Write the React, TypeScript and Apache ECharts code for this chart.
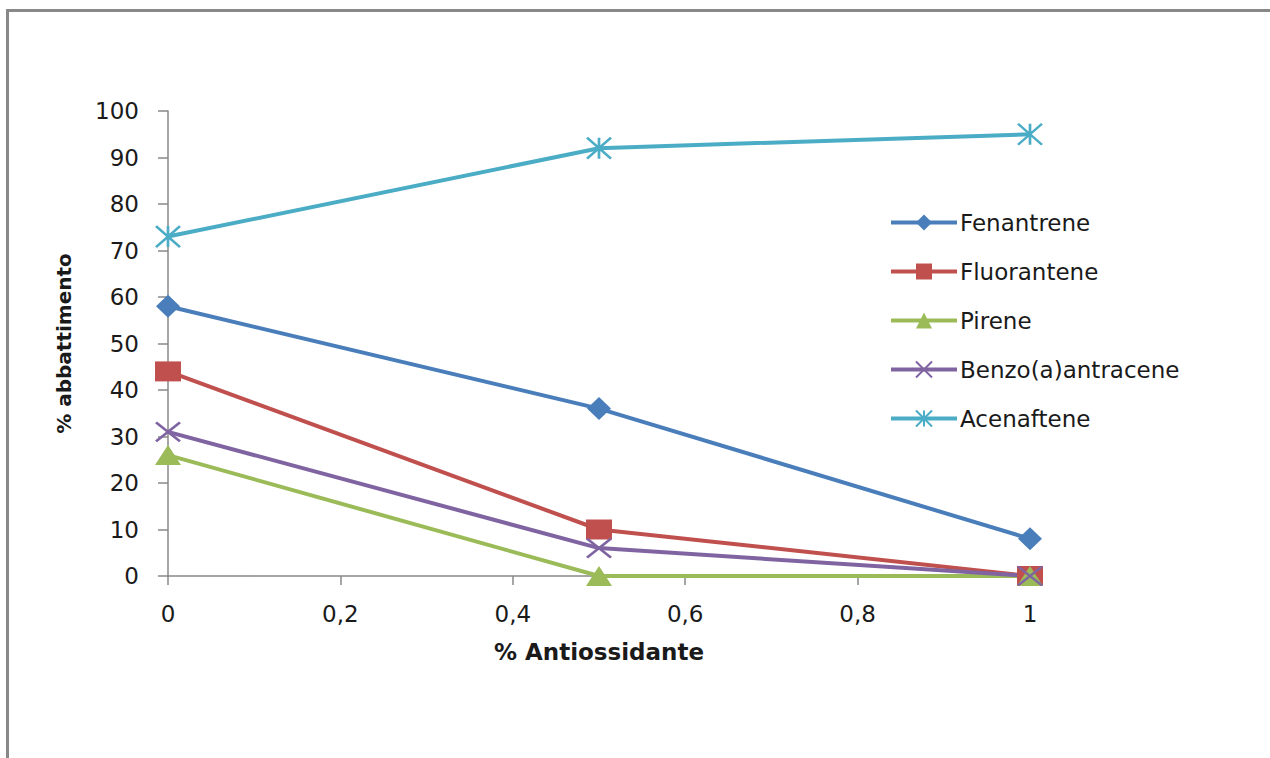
import React, { useEffect, useRef } from "react";
import * as echarts from "echarts";

// Antioxidant share (x) and abatement percentages per compound
const antioxidant = [0, 0.5, 1];
const fenantrene = [58, 36, 8];
const fluorantene = [44, 10, 0];
const pirene = [26, 0, 0];
const benzoAntracene = [31, 6, 0];
const acenaftene = [73, 92, 95];

const xTicks = { min: 0, max: 1, interval: 0.2 };
const yTicks = { min: 0, max: 100, interval: 10 };

const FONT = "'DejaVu Sans', sans-serif";

const crossPath = "path://M0,0 L10,10 M10,0 L0,10";
const starPath = "path://M0,0 L10,10 M10,0 L0,10 M5,0 L5,10";

const pairs = (ys: number[]) => antioxidant.map((x, i) => [x, ys[i]]);

export default function App() {
  const ref = useRef<HTMLDivElement>(null);

  useEffect(() => {
    if (!ref.current) return;
    const chart = echarts.init(ref.current, null, { renderer: "svg" });

    const lineSeries = (
      name: string,
      ys: number[],
      color: string,
      symbol: string,
      symbolSize: number | number[],
      stroked = false
    ) => ({
      name,
      type: "line",
      data: pairs(ys),
      symbol,
      symbolSize,
      showAllSymbol: true,
      clip: false,
      lineStyle: { color, width: 4 },
      itemStyle: stroked
        ? { color, borderColor: color, borderWidth: 2.5 }
        : { color },
      emphasis: { disabled: true },
    });

    chart.setOption({
      animation: false,
      backgroundColor: "#ffffff",
      graphic: [
        {
          type: "rect",
          left: 5,
          top: 8,
          shape: { width: 1300, height: 800 },
          style: { fill: "none", stroke: "#888888", lineWidth: 3 },
          silent: true,
          z: -1,
        },
      ],
      grid: { left: 168, right: 240, top: 111, bottom: 182 },
      legend: {
        orient: "vertical",
        left: 884,
        top: 206,
        itemWidth: 66,
        itemHeight: 20,
        itemGap: 26,
        lineStyle: { width: 4 },
        textStyle: { fontFamily: FONT, fontSize: 23, color: "#1a1a1a", lineHeight: 21, padding: [0, 0, 0, -2] },
        data: ["Fenantrene", "Fluorantene", "Pirene", "Benzo(a)antracene", "Acenaftene"],
      },
      xAxis: {
        type: "value",
        min: xTicks.min,
        max: xTicks.max,
        interval: xTicks.interval,
        name: "% Antiossidante",
        nameLocation: "middle",
        nameGap: 64,
        nameTextStyle: { fontFamily: FONT, fontSize: 23, fontWeight: "bold", color: "#1a1a1a" },
        splitLine: { show: false },
        axisLine: { lineStyle: { color: "#888888", width: 1.5 } },
        axisTick: { show: true, length: 9, lineStyle: { color: "#888888", width: 1.5 } },
        axisLabel: {
          fontFamily: FONT,
          fontSize: 23,
          color: "#1a1a1a",
          margin: 26,
          formatter: (v: number) => String(Math.round(v * 10) / 10).replace(".", ","),
        },
      },
      yAxis: {
        type: "value",
        min: yTicks.min,
        max: yTicks.max,
        interval: yTicks.interval,
        name: "% abbattimento",
        nameLocation: "middle",
        nameGap: 94,
        nameRotate: 90,
        nameTextStyle: { fontFamily: FONT, fontSize: 20, fontWeight: "bold", color: "#1a1a1a" },
        splitLine: { show: false },
        axisLine: { show: true, lineStyle: { color: "#888888", width: 1.5 } },
        axisTick: { show: true, length: 10, lineStyle: { color: "#888888", width: 1.5 } },
        axisLabel: { fontFamily: FONT, fontSize: 23, color: "#1a1a1a", margin: 29 },
      },
      series: [
        lineSeries("Fenantrene", fenantrene, "#4A7EBB", "diamond", [24, 23]),
        lineSeries("Fluorantene", fluorantene, "#C0504D", "rect", [26, 20]),
        lineSeries("Pirene", pirene, "#9BBB59", "triangle", [26, 20]),
        lineSeries("Benzo(a)antracene", benzoAntracene, "#8064A2", crossPath, [24, 19], true),
        lineSeries("Acenaftene", acenaftene, "#4BACC6", starPath, [24, 21], true),
      ],
    });

    return () => chart.dispose();
  }, []);

  return (
    <div
      ref={ref}
      style={{ position: "fixed", left: 0, top: 0, width: 1270, height: 758, background: "#fff" }}
    />
  );
}
